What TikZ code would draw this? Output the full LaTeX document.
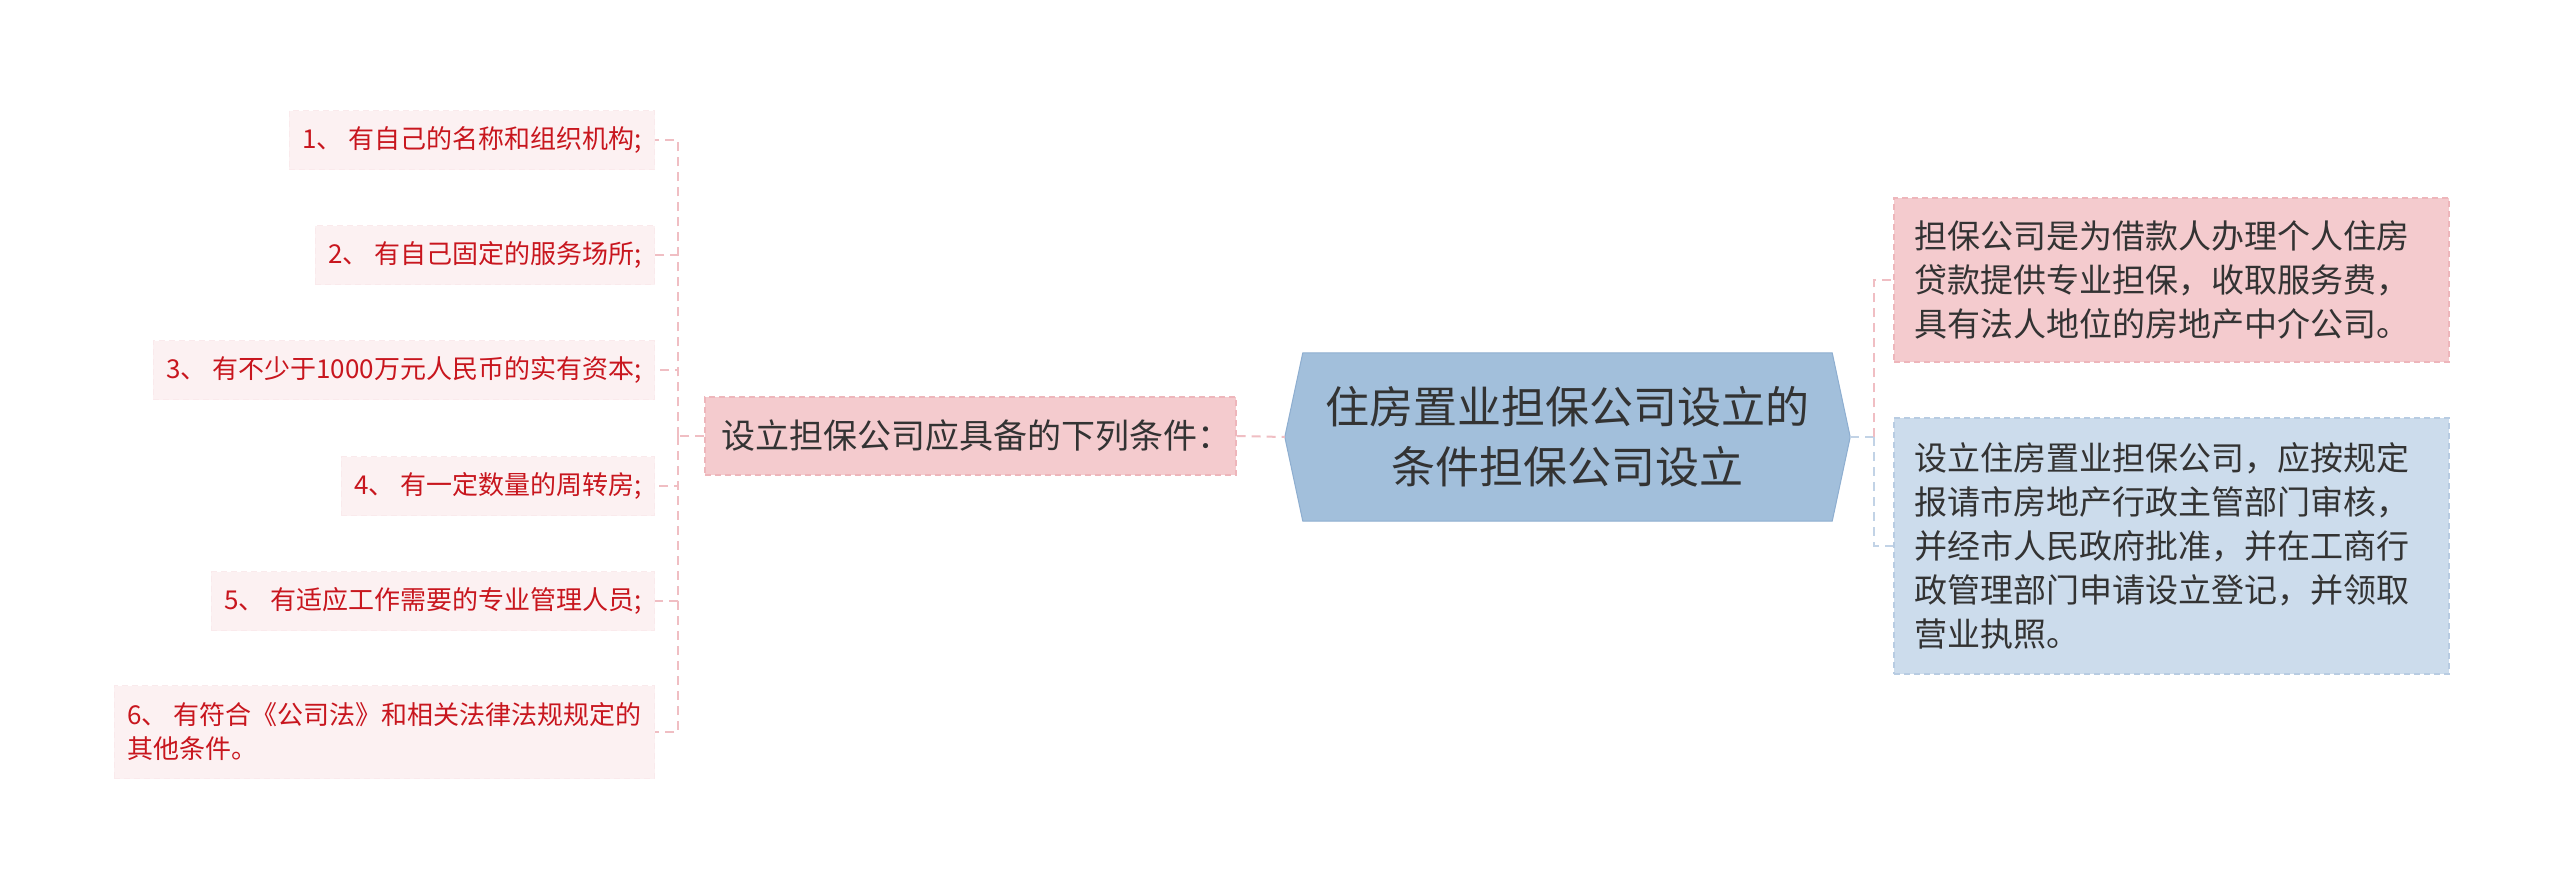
\documentclass[tikz,border=0pt]{standalone}
\usepackage{fontspec}
\newfontfamily\cjk{Noto Sans CJK SC}
\definecolor{leaffill}{HTML}{FCF1F2}
\definecolor{leafline}{HTML}{FAEAEC}
\definecolor{leaftext}{HTML}{C8161E}
\definecolor{pinkfill}{HTML}{F4CBCE}
\definecolor{pinkline}{HTML}{EEB6BB}
\definecolor{pinklk}{HTML}{F0BEC3}
\definecolor{bluefill}{HTML}{CCDCEC}
\definecolor{blueline}{HTML}{B8CCE2}
\definecolor{bluelk}{HTML}{C2D3E6}
\definecolor{hexfill}{HTML}{A2BFDB}
\definecolor{hexline}{HTML}{8EAED0}
\definecolor{darktext}{HTML}{333333}
\begin{document}
\begin{tikzpicture}[x=1pt,y=-1pt,
  leaf/.style={anchor=east,fill=leaffill,draw=leafline,dash pattern=on 6pt off 4pt,line width=1pt,
    text=leaftext,inner xsep=13pt,inner ysep=6pt,minimum height=59pt,
    font=\cjk\fontsize{26pt}{34pt}\selectfont},
  midbox/.style={fill=pinkfill,draw=pinkline,dash pattern=on 6pt off 4pt,line width=1.2pt,
    text=darktext,inner xsep=16pt,text width=499pt,minimum height=78pt,align=left,
    font=\cjk\fontsize{34pt}{42pt}\selectfont},
  rbox/.style={line width=1.2pt,dash pattern=on 6pt off 4pt,text=darktext,inner xsep=20pt,
    text width=515pt,align=left,font=\cjk\fontsize{33pt}{44pt}\selectfont},
  lkpink/.style={draw=pinklk,line width=2pt,dash pattern=on 9pt off 6pt},
  lkblue/.style={draw=bluelk,line width=2pt,dash pattern=on 9pt off 6pt}]
\useasboundingbox[fill=white] (0,0) rectangle (2560,889);

% central hexagon
\node[inner sep=0pt,minimum width=529pt,minimum height=168pt] (c) at (1567.5,437) {};
\coordinate (cl) at ([xshift=-18pt]c.west);
\coordinate (cr) at ([xshift=18pt]c.east);
\fill[hexfill,draw=hexline,line width=1pt] (c.north west) -- (c.north east) -- (cr) -- (c.south east) -- (c.south west) -- (cl) -- cycle;
\node[inner sep=0pt,text width=529pt,align=center,
  text=darktext,font=\cjk\fontsize{44pt}{60pt}\selectfont] (ct) at (c.center)
  {住房置业担保公司设立的\\条件担保公司设立};

% middle node
\node[midbox] (m) at (970.5,436) {设立担保公司应具备的下列条件：};

% leaves
\node[leaf] (l1) at (655,140) {1、 有自己的名称和组织机构;};
\node[leaf] (l2) at (655,255) {2、 有自己固定的服务场所;};
\node[leaf] (l3) at (655,370) {3、 有不少于1000万元人民币的实有资本;};
\node[leaf] (l4) at (655,486) {4、 有一定数量的周转房;};
\node[leaf] (l5) at (655,601) {5、 有适应工作需要的专业管理人员;};
\node[leaf,align=left,minimum height=93pt] (l6) at (655,732) {6、 有符合《公司法》和相关法律法规规定的\\其他条件。};

% right nodes
\node[rbox,fill=pinkfill,draw=pinkline,minimum height=164pt] (r1) at (2171.5,280)
  {担保公司是为借款人办理个人住房\\贷款提供专业担保，收取服务费，\\具有法人地位的房地产中介公司。};
\node[rbox,fill=bluefill,draw=blueline,minimum height=256pt] (r2) at (2171.5,546)
  {设立住房置业担保公司，应按规定\\报请市房地产行政主管部门审核，\\并经市人民政府批准，并在工商行\\政管理部门申请设立登记，并领取\\营业执照。};

% connectors left
\coordinate (jl) at (678,436);
\draw[lkpink] (m.east) -- (cl);
\draw[lkpink] (m.west) -- (jl);
\draw[lkpink] (jl) |- (l1.east);
\draw[lkpink] (jl) |- (l2.east);
\draw[lkpink] (jl) |- (l3.east);
\draw[lkpink] (jl) |- (l4.east);
\draw[lkpink] (jl) |- (l5.east);
\draw[lkpink] (jl) |- (l6.east);

% connectors right
\coordinate (jr) at (1874,437);
\draw[lkblue] (cr) -- (jr);
\draw[lkpink] (jr) |- (r1.west);
\draw[lkblue] (jr) |- (r2.west);
\end{tikzpicture}
\end{document}
